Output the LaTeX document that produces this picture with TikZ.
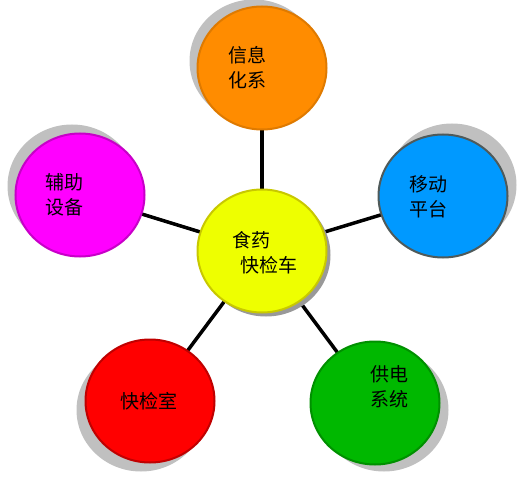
\documentclass[tikz,border=0pt]{standalone}
\usepackage{fontspec}
\newfontfamily\cjkfont{Noto Sans CJK SC}
\usepackage{tikz}
\usetikzlibrary{shapes.geometric,shadows,backgrounds}
\definecolor{carfill}{HTML}{EEFF00}
\definecolor{carline}{HTML}{C8C800}
\definecolor{infofill}{HTML}{FF8C00}
\definecolor{infoline}{HTML}{DF7A00}
\definecolor{movefill}{HTML}{0099FF}
\definecolor{moveline}{HTML}{4F5A5A}
\definecolor{auxfill}{HTML}{FF00FF}
\definecolor{auxline}{HTML}{C800C8}
\definecolor{labfill}{HTML}{FF0000}
\definecolor{labline}{HTML}{C00000}
\definecolor{powerfill}{HTML}{00B800}
\definecolor{powerline}{HTML}{009000}
\definecolor{shadowgray}{HTML}{C0C0C0}
\begin{document}
\begin{tikzpicture}[x=1pt, y=-1pt,
		part/.style={ellipse, draw, line width=2pt, minimum width=129pt, minimum height=123pt, inner sep=0pt},
		cast/.style 2 args={drop shadow={shadow xshift=#1, shadow yshift=#2, fill=shadowgray, opacity=1}},
		every label/.style={font=\cjkfont\fontsize{19}{25}\selectfont, align=left, inner sep=0pt},
		link/.style={line width=3.5pt}]
	\useasboundingbox (0,0) rectangle (522,492);
	\node[part, fill=carfill, draw=carline, drop shadow={shadow xshift=4pt, shadow yshift=-4pt, fill=gray!80, opacity=1},
		label={[xshift=3pt, yshift=-2pt]center:{食药\\\hspace*{8pt}快检车}}] (car) at (262,251) {};
	\node[part, fill=infofill, draw=infoline, cast={-8pt}{7pt},
		label={[xshift=-15pt]center:{信息\\化系}}] (info) at (262,68) {};
	\node[part, fill=movefill, draw=moveline, cast={9pt}{11pt},
		label={[xshift=-15pt, yshift=-1pt]center:{移动\\平台}}] (move) at (443,196) {};
	\node[part, fill=auxfill, draw=auxline, cast={-8pt}{9pt},
		label={[xshift=-16pt]center:{辅助\\设备}}] (aux) at (80,195) {};
	\node[part, fill=labfill, draw=labline, cast={-9pt}{-9pt},
		label={[xshift=-1pt]center:{快检室}}] (lab) at (150,401) {};
	\node[part, fill=powerfill, draw=powerline, cast={9pt}{-7pt},
		label={[xshift=14pt, yshift=16pt]center:{供电\\系统}}] (power) at (375,403) {};
	\begin{scope}[on background layer]
		\foreach \n in {info,move,aux,lab,power}
			\draw[link] (car.center) -- (\n.center);
	\end{scope}
\end{tikzpicture}
\end{document}
